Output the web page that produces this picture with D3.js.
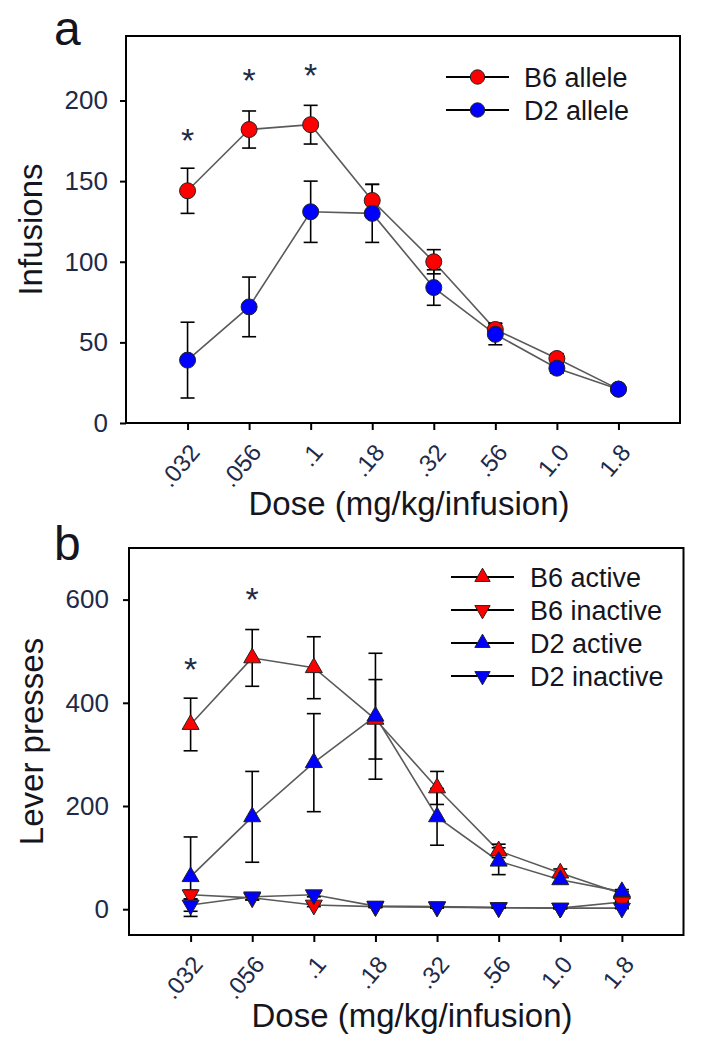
<!DOCTYPE html>
<html>
<head>
<meta charset="utf-8">
<script src="https://cdn.jsdelivr.net/npm/d3@7"></script>
<style>
  html, body { margin: 0; padding: 0; background: #fff; }
  svg { display: block; }
  text { font-family: "Liberation Sans", Arial, sans-serif; }
</style>
</head>
<body>
<svg id="chart" width="704" height="1049"></svg>
<script>
// ---------- data ----------
const doses = [".032", ".056", ".1", ".18", ".32", ".56", "1.0", "1.8"];

// panel a: infusions
const b6Allele    = [144, 182, 185, 138, 100, 58, 40, 21];
const b6AlleleErr = [14, 11.5, 12, 10, 7.5, 4, 3, 2];
const d2Allele    = [39, 72, 131, 130, 84, 55, 34, 21];
const d2AlleleErr = [23.5, 18.5, 19, 18, 11, 6.5, 3, 2];
const sigADose = [0, 1, 2];
const sigAY    = [180, 217, 220];
const yTicksA  = [0, 50, 100, 150, 200];

// panel b: lever presses
const b6Active      = [358, 487, 468, 368, 235, 113, 70, 30];
const b6ActiveErr   = [51, 55, 60, 77, 32, 13, 8, 4];
const b6Inactive    = [28, 22, 8, 5, 4, 3, 2, 14];
const b6InactiveErr = [9, 4, 3, 2, 2, 1, 1, 1];
const d2Active      = [63, 179, 284, 374, 179, 93, 57, 34];
const d2ActiveErr   = [77, 88, 95, 122, 55, 26, 6, 4];
const d2Inactive    = [8, 24, 28, 6, 5, 3, 2, 2];
const d2InactiveErr = [12, 6, 4, 2, 2, 1, 1, 1];
const sigBDose = [0, 1];
const sigBY    = [479, 614];
const yTicksB  = [0, 200, 400, 600];

const RED = "#ff0000", BLUE = "#0000ff";
const TICKC = "#1e2a48", TEXTC = "#151520";

const svg = d3.select("#chart");

function panel(cfg) {
  const g = svg.append("g");
  const x = d3.scaleLinear().domain([-1, 8]).range([cfg.left, cfg.right]);
  const y = d3.scaleLinear().domain(cfg.yDomain).range([cfg.bottom, cfg.top]);

  // y axis
  const ya = g.append("g").attr("transform", `translate(${cfg.left},0)`)
    .call(d3.axisLeft(y).tickValues(cfg.yTicks).tickSize(6).tickPadding(cfg.yPad));
  ya.select(".domain").remove();
  ya.selectAll(".tick line").attr("stroke", "#000").attr("stroke-width", 2);
  ya.selectAll(".tick text").attr("font-size", 26).attr("fill", TICKC)
    .attr("font-family", '"Liberation Sans", Arial, sans-serif');

  // x axis
  const xa = g.append("g").attr("transform", `translate(0,${cfg.bottom})`)
    .call(d3.axisBottom(x).tickValues(d3.range(doses.length)).tickFormat(i => doses[i]).tickSize(7));
  xa.select(".domain").remove();
  xa.selectAll(".tick line").attr("stroke", "#000").attr("stroke-width", 2);
  xa.selectAll(".tick text")
    .attr("font-size", 24).attr("fill", TICKC)
    .attr("font-family", '"Liberation Sans", Arial, sans-serif')
    .attr("text-anchor", "end")
    .attr("x", 0).attr("y", 0).attr("dy", 0)
    .attr("transform", "translate(13,30) rotate(-50)");

  // frame
  g.append("rect").attr("x", cfg.left).attr("y", cfg.top)
    .attr("width", cfg.right - cfg.left).attr("height", cfg.bottom - cfg.top)
    .attr("fill", "none").attr("stroke", "#000").attr("stroke-width", 2);

  const line = d3.line().x((d, i) => x(i)).y(d => y(d));

  // lines
  cfg.series.forEach(s => {
    g.append("path").datum(s.values).attr("d", line)
      .attr("fill", "none").attr("stroke", "#5a5a5a").attr("stroke-width", 1.6);
  });
  // error bars
  cfg.series.forEach(s => {
    const eb = g.append("g").attr("stroke", "#000").attr("stroke-width", 1.6);
    s.values.forEach((v, i) => {
      const e = s.err[i];
      const cx = x(i), y1 = y(v + e), y2 = y(v - e);
      eb.append("line").attr("x1", cx).attr("x2", cx).attr("y1", y1).attr("y2", y2);
      eb.append("line").attr("x1", cx - 7).attr("x2", cx + 7).attr("y1", y1).attr("y2", y1);
      eb.append("line").attr("x1", cx - 7).attr("x2", cx + 7).attr("y1", y2).attr("y2", y2);
    });
  });
  // markers
  cfg.series.forEach(s => {
    s.values.forEach((v, i) => drawMarker(g, s.shape, x(i), y(v), s.color));
  });

  // significance asterisks
  cfg.sigDose.forEach((d, k) => {
    g.append("text").attr("x", x(d)).attr("y", y(cfg.sigY[k]) + 19)
      .attr("text-anchor", "middle").attr("font-size", 34).attr("fill", TICKC).text("*");
  });

  // legend
  cfg.series.forEach((s, k) => {
    const ly = cfg.legY + k * cfg.legStep;
    g.append("line").attr("x1", cfg.legX1).attr("x2", cfg.legX2).attr("y1", ly).attr("y2", ly)
      .attr("stroke", "#000").attr("stroke-width", 2);
    drawMarker(g, s.shape, (cfg.legX1 + cfg.legX2) / 2, ly, s.color, 0.9);
    g.append("text").attr("x", cfg.legTextX).attr("y", ly).attr("dy", "0.36em")
      .attr("font-size", 27).attr("fill", TEXTC).text(s.name);
  });

  // titles
  g.append("text").attr("x", cfg.xTitleX).attr("y", cfg.bottom + 92)
    .attr("text-anchor", "middle").attr("font-size", 33).attr("fill", TEXTC)
    .text("Dose (mg/kg/infusion)");
  g.append("text").attr("transform", `translate(${cfg.yTitleX},${(cfg.top + cfg.bottom) / 2}) rotate(-90)`)
    .attr("text-anchor", "middle").attr("font-size", 33).attr("fill", TEXTC)
    .text(cfg.yTitle);
  g.append("text").attr("x", 54).attr("y", cfg.letterY)
    .attr("font-size", 48).attr("fill", TEXTC).text(cfg.letter);
}

function drawMarker(g, shape, cx, cy, color, scale = 1) {
  if (shape === "circle") {
    g.append("circle").attr("cx", cx).attr("cy", cy).attr("r", 8 * scale)
      .attr("fill", color).attr("stroke", "#222").attr("stroke-width", 1);
  } else {
    const rot = shape === "down" ? 180 : 0;
    g.append("path").attr("d", d3.symbol(d3.symbolTriangle, 125 * scale * scale)())
      .attr("transform", `translate(${cx},${cy}) rotate(${rot})`)
      .attr("fill", color).attr("stroke", "#222").attr("stroke-width", 1);
  }
}

panel({
  left: 126, right: 680, top: 36, bottom: 423,
  yDomain: [0, 240], yTicks: yTicksA, yPad: 12,
  series: [
    { name: "B6 allele", values: b6Allele, err: b6AlleleErr, color: RED, shape: "circle" },
    { name: "D2 allele", values: d2Allele, err: d2AlleleErr, color: BLUE, shape: "circle" }
  ],
  sigDose: sigADose, sigY: sigAY,
  legX1: 446, legX2: 509, legY: 77, legStep: 33, legTextX: 524,
  xTitleX: 409, yTitleX: 42, yTitle: "Infusions", letter: "a", letterY: 45
});

panel({
  left: 129, right: 683.5, top: 548, bottom: 935,
  yDomain: [-50, 700], yTicks: yTicksB, yPad: 14,
  series: [
    { name: "B6 active", values: b6Active, err: b6ActiveErr, color: RED, shape: "up" },
    { name: "B6 inactive", values: b6Inactive, err: b6InactiveErr, color: RED, shape: "down" },
    { name: "D2 active", values: d2Active, err: d2ActiveErr, color: BLUE, shape: "up" },
    { name: "D2 inactive", values: d2Inactive, err: d2InactiveErr, color: BLUE, shape: "down" }
  ],
  sigDose: sigBDose, sigY: sigBY,
  legX1: 451, legX2: 514, legY: 577, legStep: 33, legTextX: 530,
  xTitleX: 412, yTitleX: 43, yTitle: "Lever presses", letter: "b", letterY: 560
});
</script>
</body>
</html>
